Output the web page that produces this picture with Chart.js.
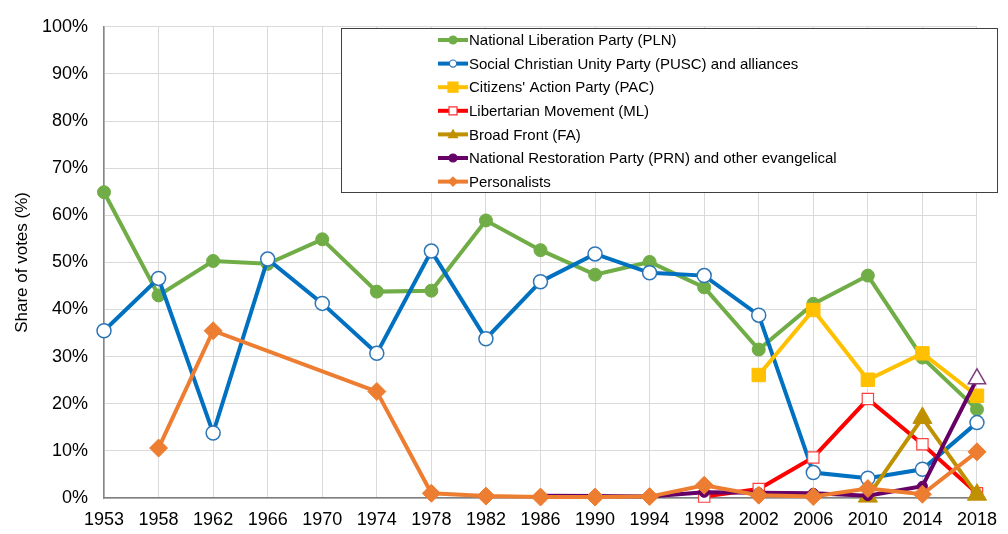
<!DOCTYPE html>
<html><head><meta charset="utf-8">
<script src="https://cdn.jsdelivr.net/npm/chart.js@4/dist/chart.umd.min.js"></script>
<style>html,body{margin:0;padding:0;background:#fff}#wrap{width:1008px;height:534px}</style>
</head><body><div id="wrap"><canvas id="c" width="1008" height="534"></canvas></div>
<script>
// ---- data ----
const years = ['1953','1958','1962','1966','1970','1974','1978','1982','1986','1990','1994','1998','2002','2006','2010','2014','2018'];
const seriesNames = [
  'National Liberation Party (PLN)',
  'Social Christian Unity Party (PUSC) and alliances',
  "Citizens' Action Party (PAC)",
  'Libertarian Movement (ML)',
  'Broad Front (FA)',
  'National Restoration Party (PRN) and other evangelical',
  'Personalists'
];
const pln  = [64.9, 43.0, 50.3, 49.7, 54.9, 43.8, 44.0, 58.9, 52.6, 47.4, 50.1, 44.7, 31.5, 41.2, 47.2, 29.8, 18.8];
const pusc = [35.5, 46.6, 13.8, 50.7, 41.3, 30.7, 52.4, 33.8, 45.9, 51.8, 47.8, 47.2, 38.8, 5.4, 4.2, 6.1, 16.0];
const pac  = [null, null, null, null, null, null, null, null, null, null, null, null, 26.1, 39.9, 25.1, 30.7, 21.7];
const ml   = [null, null, null, null, null, null, null, null, null, null, null, 0.3, 1.9, 8.6, 21.0, 11.4, 1.0];
const fa   = [null, null, null, null, null, null, null, null, null, null, null, null, null, null, 0.3, 17.0, 0.7];
const prn  = [null, null, null, null, null, null, null, null, 0.5, 0.4, 0.3, 1.2, 1.1, 1.0, 0.5, 2.5, 25.3];
const pers = [null, 10.6, 35.5, null, null, 22.6, 1.0, 0.4, 0.2, 0.2, 0.3, 2.7, 0.6, 0.3, 2.0, 0.8, 9.8];
const yTickValues = [0,10,20,30,40,50,60,70,80,90,100];

// ---- styles ----
const FONT = '"Liberation Sans", Arial, sans-serif';
const seriesValues = [pln, pusc, pac, ml, fa, prn, pers];
const styles = [
  {color:'#70AD47', style:'circle',  r:6.5, fill:'#70AD47', bc:'#70AD47', bw:1,   lg:{s:'circle', r:4, fill:'#70AD47', bc:'#70AD47'}},
  {color:'#0070C0', style:'circle',  r:7,   fill:'#FFFFFF', bc:'#2E75B6', bw:1.5, lg:{s:'circle', r:3.6, fill:'#FFFFFF', bc:'#2E75B6'}},
  {color:'#FFC000', style:'rect',    r:9.5, fill:'#FFC000', bc:'#FFC000', bw:1,   lg:{s:'rect', r:5, fill:'#FFC000', bc:'#FFC000'}},
  {color:'#FF0000', style:'rect',    r:8,   fill:'#FFFFFF', bc:'#FF4040', bw:1.2, lg:{s:'rect', r:4, fill:'#FFFFFF', bc:'#FF3030'}},
  {color:'#BF9000', style:'triangle',r:11,  fill:'#BF9000', bc:'#BF9000', bw:1,   lg:{s:'triangle', r:4.5, fill:'#BF9000', bc:'#BF9000'}},
  {color:'#660066', style:'circle',  r:5,   fill:'#660066', bc:'#660066', bw:1,   lg:{s:'circle', r:4, fill:'#660066', bc:'#660066'}},
  {color:'#ED7D31', style:'rectRot', r:9,   fill:'#ED7D31', bc:'#ED7D31', bw:1,   lg:{s:'diamond', r:4.5, fill:'#ED7D31', bc:'#ED7D31'}}
];

const datasets = seriesValues.map((vals, i) => {
  const st = styles[i];
  const ds = {
    label: seriesNames[i],
    data: vals,
    borderColor: st.color,
    backgroundColor: st.color,
    borderWidth: 4,
    tension: 0,
    pointStyle: st.style,
    pointRadius: st.r,
    pointBackgroundColor: st.fill,
    pointBorderColor: st.bc,
    pointBorderWidth: st.bw,
    spanGaps: i === 6,
    clip: false,
    order: 7 - i
  };
  if (i === 5) {
    // last PRN point shown as an open triangle
    ds.pointStyle = vals.map((v, k) => k === vals.length - 1 ? 'triangle' : 'circle');
    ds.pointRadius = vals.map((v, k) => k === vals.length - 1 ? 10 : 5);
    ds.pointBackgroundColor = vals.map((v, k) => k === vals.length - 1 ? '#FFFFFF' : '#660066');
    ds.pointBorderColor = vals.map((v, k) => k === vals.length - 1 ? '#7F3F7F' : '#660066');
    ds.pointBorderWidth = vals.map((v, k) => k === vals.length - 1 ? 1.5 : 1);
  }
  return ds;
});

function legendMarker(ctx, m, x, y) {
  ctx.fillStyle = m.fill; ctx.strokeStyle = m.bc; ctx.lineWidth = 1.2;
  ctx.beginPath();
  if (m.s === 'circle') ctx.arc(x, y, m.r, 0, Math.PI * 2);
  else if (m.s === 'rect') ctx.rect(x - m.r, y - m.r, 2 * m.r, 2 * m.r);
  else if (m.s === 'triangle') { ctx.moveTo(x, y - m.r); ctx.lineTo(x + m.r, y + m.r * 0.7); ctx.lineTo(x - m.r, y + m.r * 0.7); ctx.closePath(); }
  else if (m.s === 'diamond') { ctx.moveTo(x, y - m.r); ctx.lineTo(x + m.r, y); ctx.lineTo(x, y + m.r); ctx.lineTo(x - m.r, y); ctx.closePath(); }
  ctx.fill(); ctx.stroke();
}

const boxLegend = {
  id: 'boxLegend',
  afterDatasetsDraw(chart) {
    const ctx = chart.ctx;
    ctx.save();
    const L = 341, T = 28, R = 998, B = 193;
    ctx.fillStyle = '#FFFFFF'; ctx.fillRect(L, T, R - L, B - T);
    ctx.strokeStyle = '#404040'; ctx.lineWidth = 1; ctx.strokeRect(L + 0.5, T + 0.5, R - L - 1, B - T - 1);
    chart.data.datasets.forEach((ds, i) => {
      const y = 40 + i * 23.6;
      ctx.strokeStyle = ds.borderColor; ctx.lineWidth = 4; ctx.lineCap = 'butt';
      ctx.beginPath(); ctx.moveTo(438, y); ctx.lineTo(468, y); ctx.stroke();
      legendMarker(ctx, styles[i].lg, 453, y);
      ctx.fillStyle = '#000'; ctx.font = '15px ' + FONT; ctx.textBaseline = 'middle'; ctx.textAlign = 'left';
      ctx.fillText(ds.label, 469, y + 1);
    });
    ctx.restore();
  }
};

new Chart(document.getElementById('c'), {
  type: 'line',
  data: { labels: years, datasets: datasets },
  plugins: [boxLegend],
  options: {
    responsive: false, animation: false, devicePixelRatio: 1,
    layout: { padding: { top: 19, right: 24, left: 0, bottom: 0 } },
    plugins: { legend: { display: false }, tooltip: { enabled: false } },
    scales: {
      x: {
        type: 'category', offset: false,
        grid: { color: '#D9D9D9', lineWidth: 1, drawTicks: false },
        border: { color: '#7F7F7F', width: 1.5 },
        ticks: { padding: 11, color: '#000', font: { size: 18, family: FONT }, maxRotation: 0, autoSkip: false },
        afterFit(s) { s.height = 36; }
      },
      y: {
        min: 0, max: 100,
        afterBuildTicks(s) { s.ticks = yTickValues.map(v => ({ value: v })); },
        grid: { color: '#D9D9D9', lineWidth: 1, drawTicks: false },
        border: { color: '#868686', width: 1.5 },
        ticks: { padding: 16, color: '#000', font: { size: 18, family: FONT }, callback: v => v + '%' },
        title: { display: true, text: 'Share of votes (%)', color: '#000', font: { size: 17, family: FONT }, padding: { top: 12, bottom: 0 } },
        afterFit(s) { s.width = 104; }
      }
    }
  }
});
</script></body></html>
